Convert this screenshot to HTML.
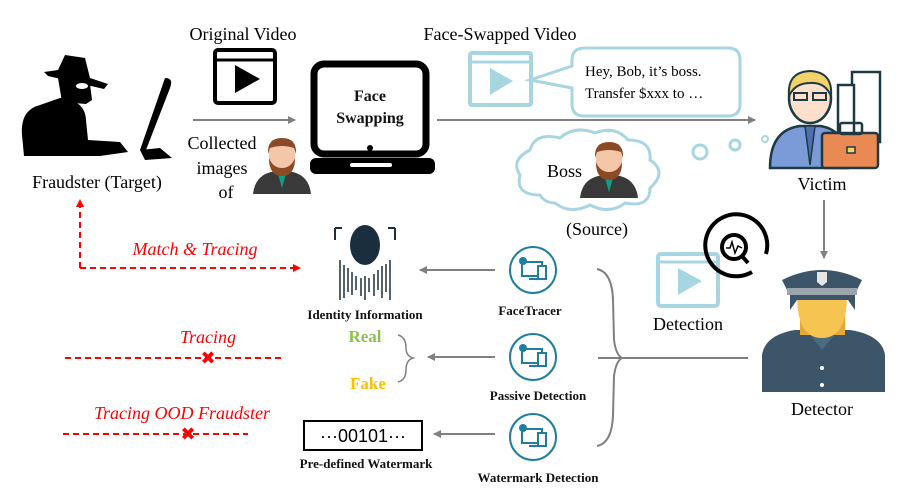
<!DOCTYPE html>
<html><head><meta charset="utf-8"><style>
body{margin:0;background:#fff}
svg{display:block}
.s{font-family:"Liberation Serif",serif;fill:#000}
.b{font-family:"Liberation Serif",serif;font-weight:bold;fill:#111}
.r{font-family:"Liberation Serif",serif;font-style:italic;fill:#f00}
</style></head><body>
<svg width="907" height="491" viewBox="0 0 907 491" xmlns="http://www.w3.org/2000/svg">
<defs>
<marker id="ga" markerWidth="8" markerHeight="8" refX="7" refY="4" orient="auto" markerUnits="userSpaceOnUse"><path d="M0,0 L8,4 L0,8 z" fill="#808080"/></marker>
<marker id="ra" markerWidth="8" markerHeight="8" refX="7" refY="4" orient="auto" markerUnits="userSpaceOnUse"><path d="M0,0 L8,4 L0,8 z" fill="#f00"/></marker>
<g id="boss">
<path d="M0,58 Q2,40 18,36 L40,36 Q56,40 58,58 z" fill="#3a3a3a"/>
<path d="M25,38 L29,52 L33,38 z" fill="#1a9a80"/>
<rect x="16" y="6" width="26" height="30" rx="10" fill="#f4c7a8"/>
<path d="M15,18 Q14,2 29,2 Q44,2 43,18 L41,12 Q29,8 17,12 z" fill="#8a4a25"/>
<path d="M16,22 Q16,40 29,40 Q42,40 42,22 Q38,32 29,32 Q20,32 16,22 z" fill="#8a4a25"/>
</g>
<g id="gear">
<circle cx="0" cy="0" r="23" fill="#fff" stroke="#1f7ea0" stroke-width="2"/>
<rect x="-11" y="-8" width="20" height="14" fill="none" stroke="#1f7ea0" stroke-width="2"/>
<rect x="5" y="-4" width="8" height="13" fill="#fff" stroke="#1f7ea0" stroke-width="2"/>
<rect x="-4" y="8" width="8" height="2" fill="#1f7ea0"/>
<circle cx="-10" cy="-9" r="4" fill="#1f7ea0"/>
</g>
</defs>

<!-- Fraudster -->
<g fill="#000">
<path d="M44,72 L58,70 L65,55 L85,58 L90,78 L108,84 L104,89 L48,76 z"/>
<path d="M58,78 L90,84 L92,100 L86,104 L62,102 z"/>
<ellipse cx="82" cy="86" rx="6" ry="3" fill="#fff"/>
<path d="M22,135 Q20,110 40,105 L60,98 Q85,100 86,120 L88,140 L120,142 L128,152 L100,156 L24,156 z"/>
<path d="M165,78 Q174,78 170,88 L146,150 L140,150 z"/>
<path d="M140,150 L160,148 L172,158 L145,160 z"/>
</g>
<text class="s" x="97" y="188" font-size="18" text-anchor="middle">Fraudster (Target)</text>

<!-- Original video -->
<text class="s" x="243" y="40" font-size="18" text-anchor="middle">Original Video</text>
<rect x="215" y="50" width="60" height="53" rx="3" fill="#fff" stroke="#000" stroke-width="4"/>
<line x1="215" y1="60" x2="275" y2="60" stroke="#000" stroke-width="3"/>
<path d="M235,65 L260,79 L235,93 z" fill="#000"/>
<line x1="193" y1="120" x2="295" y2="120" stroke="#808080" stroke-width="2" marker-end="url(#ga)"/>
<text class="s" x="222" y="149" font-size="18" text-anchor="middle">Collected</text>
<text class="s" x="222" y="174" font-size="18" text-anchor="middle">images</text>
<text class="s" x="226" y="198" font-size="18" text-anchor="middle">of</text>
<use href="#boss" x="253" y="136"/>

<!-- Laptop -->
<rect x="314" y="64" width="112" height="90" rx="10" fill="#fff" stroke="#000" stroke-width="7"/>
<circle cx="370" cy="148" r="3" fill="#000"/>
<rect x="310" y="158" width="125" height="16" rx="6" fill="#000"/>
<rect x="350" y="163" width="42" height="4" rx="2" fill="#fff"/>
<text class="b" x="370" y="101" font-size="16" text-anchor="middle">Face</text>
<text class="b" x="370" y="123" font-size="16" text-anchor="middle">Swapping</text>
<line x1="437" y1="120" x2="755" y2="120" stroke="#808080" stroke-width="2" marker-end="url(#ga)"/>

<!-- Face-swapped -->
<text class="s" x="500" y="40" font-size="18" text-anchor="middle">Face-Swapped Video</text>
<rect x="470" y="53" width="61" height="52" rx="2" fill="#fff" stroke="#a8d5e2" stroke-width="4"/>
<line x1="470" y1="62" x2="531" y2="62" stroke="#a8d5e2" stroke-width="3"/>
<path d="M490,68 L513,81 L490,95 z" fill="#a8d5e2"/>
<path d="M585,48 L728,48 Q740,48 740,60 L740,104 Q740,116 728,116 L584,116 Q572,116 572,104 L572,88 L530,80 L572,66 L572,60 Q572,48 585,48 z" fill="#fff" stroke="#a8d5e2" stroke-width="3"/>
<text class="s" x="585" y="76" font-size="15">Hey, Bob, it’s boss.</text>
<text class="s" x="585" y="98" font-size="15">Transfer $xxx to …</text>

<!-- Cloud -->
<path d="M540,195 Q515,195 520,175 Q510,160 530,150 Q535,132 560,138 Q575,125 595,133 Q615,125 628,140 Q652,140 650,160 Q668,172 650,188 Q650,208 625,203 Q610,215 590,205 Q570,215 555,203 Q545,203 540,195 z" fill="#fff" stroke="#a8d5e2" stroke-width="3"/>
<text class="s" x="547" y="177" font-size="18">Boss</text>
<use href="#boss" x="580" y="140"/>
<text class="s" x="597" y="235" font-size="18" text-anchor="middle">(Source)</text>
<circle cx="700" cy="152" r="7" fill="none" stroke="#a8d5e2" stroke-width="3"/>
<circle cx="735" cy="145" r="5" fill="none" stroke="#a8d5e2" stroke-width="3"/>
<circle cx="765" cy="139" r="3" fill="none" stroke="#a8d5e2" stroke-width="2"/>

<!-- Victim -->
<rect x="852" y="72" width="28" height="70" fill="#fff" stroke="#1d3a44" stroke-width="2.5"/>
<rect x="838" y="85" width="16" height="55" fill="#fff" stroke="#1d3a44" stroke-width="2.5"/>
<path d="M770,168 Q770,130 800,126 L820,126 Q848,130 848,168 z" fill="#7a9bd8" stroke="#1d3a44" stroke-width="2.5"/>
<path d="M805,126 L810,165 L815,126 z" fill="#4f6fb0" stroke="#1d3a44" stroke-width="1.5"/>
<ellipse cx="810" cy="98" rx="21" ry="25" fill="#fde0cc" stroke="#1d3a44" stroke-width="2.5"/>
<path d="M789,96 Q787,72 810,71 Q833,72 831,96 Q825,82 810,83 Q795,83 789,96 z" fill="#f2d26a" stroke="#1d3a44" stroke-width="2"/>
<rect x="794" y="93" width="13" height="7" fill="none" stroke="#1d3a44" stroke-width="2"/>
<rect x="813" y="93" width="13" height="7" fill="none" stroke="#1d3a44" stroke-width="2"/>
<rect x="822" y="133" width="56" height="35" rx="3" fill="#e98a55" stroke="#1d3a44" stroke-width="2.5"/>
<rect x="840" y="123" width="22" height="11" rx="2" fill="none" stroke="#1d3a44" stroke-width="2.5"/>
<rect x="847" y="147" width="8" height="6" fill="#f2d26a" stroke="#1d3a44" stroke-width="1.5"/>
<text class="s" x="822" y="190" font-size="18" text-anchor="middle">Victim</text>
<line x1="824" y1="200" x2="824" y2="258" stroke="#808080" stroke-width="2" marker-end="url(#ga)"/>

<!-- Detector -->
<path d="M762,392 L762,355 Q765,335 795,330 L850,330 Q882,335 885,355 L885,392 z" fill="#3d5568"/>
<path d="M805,328 L822,350 L840,328 z" fill="#4c6a80"/>
<rect x="800" y="310" width="45" height="25" fill="#e5a93a"/>
<path d="M797,295 Q797,338 822,338 Q847,338 847,295 z" fill="#f5c451"/>
<path d="M790,310 L790,292 L855,292 L855,310 L848,300 L797,300 z" fill="#3d5568"/>
<path d="M787,290 L782,280 Q822,260 862,280 L857,290 z" fill="#3d5568"/>
<rect x="787" y="288" width="70" height="7" fill="#9aa5ad"/>
<path d="M817,272 L827,272 L827,282 L822,286 L817,282 z" fill="#e6e6e6"/>
<circle cx="822" cy="368" r="2" fill="#fff"/><circle cx="822" cy="385" r="2" fill="#fff"/>
<text class="s" x="822" y="415" font-size="18" text-anchor="middle">Detector</text>

<!-- Detection icon -->
<rect x="658" y="254" width="60" height="52" rx="3" fill="#fff" stroke="#a8d5e2" stroke-width="4"/>
<line x1="658" y1="262" x2="718" y2="262" stroke="#a8d5e2" stroke-width="3"/>
<path d="M678,268 L702,281 L678,295 z" fill="#a8d5e2"/>
<path d="M752,272 A31,31 0 1 1 766,254" fill="none" stroke="#000" stroke-width="4"/>
<circle cx="734" cy="247" r="12" fill="#fff" stroke="#000" stroke-width="4"/>
<line x1="742" y1="256" x2="748" y2="263" stroke="#000" stroke-width="4"/>
<path d="M726,248 L730,248 L732,242 L735,253 L738,246 L742,248" fill="none" stroke="#000" stroke-width="1.5"/>
<text class="s" x="688" y="330" font-size="18" text-anchor="middle">Detection</text>

<!-- Brace -->
<path d="M597,269 Q612,272 613,300 L614,340 Q616,355 622,358 Q616,361 614,376 L613,415 Q612,443 597,446" fill="none" stroke="#808080" stroke-width="2"/>
<line x1="598" y1="358" x2="748" y2="358" stroke="#808080" stroke-width="2"/>

<!-- Detectors -->
<use href="#gear" x="533" y="270"/>
<use href="#gear" x="533" y="357"/>
<use href="#gear" x="533" y="437"/>
<text class="b" x="530" y="315" font-size="13" text-anchor="middle">FaceTracer</text>
<text class="b" x="538" y="400" font-size="13" text-anchor="middle">Passive Detection</text>
<text class="b" x="538" y="482" font-size="13" text-anchor="middle">Watermark Detection</text>
<line x1="495" y1="270" x2="420" y2="270" stroke="#808080" stroke-width="2" marker-end="url(#ga)"/>
<line x1="495" y1="357" x2="428" y2="357" stroke="#808080" stroke-width="2" marker-end="url(#ga)"/>
<line x1="495" y1="434" x2="434" y2="434" stroke="#808080" stroke-width="2" marker-end="url(#ga)"/>

<!-- Identity -->
<g fill="#1a2e3d">
<ellipse cx="365" cy="245" rx="15" ry="20"/>
<path d="M335,228 L335,240 M395,228 L395,240" stroke="#1a2e3d" stroke-width="2"/>
<path d="M335,228 L342,228 M388,228 L395,228" stroke="#1a2e3d" stroke-width="2"/>
<g stroke="#1a2e3d" stroke-width="1.5">
<line x1="340" y1="260" x2="340" y2="300"/><line x1="344" y1="265" x2="344" y2="298"/><line x1="348" y1="268" x2="348" y2="292"/><line x1="352" y1="272" x2="352" y2="295"/><line x1="356" y1="276" x2="356" y2="290"/><line x1="361" y1="278" x2="361" y2="296"/><line x1="365" y1="276" x2="365" y2="300"/><line x1="369" y1="278" x2="369" y2="292"/><line x1="374" y1="274" x2="374" y2="296"/><line x1="378" y1="270" x2="378" y2="290"/><line x1="382" y1="266" x2="382" y2="298"/><line x1="386" y1="264" x2="386" y2="292"/><line x1="390" y1="260" x2="390" y2="300"/>
</g>
</g>
<text class="b" x="365" y="319" font-size="13" text-anchor="middle">Identity Information</text>

<!-- Real/Fake -->
<text class="b" x="365" y="342" font-size="17" text-anchor="middle" style="fill:#8bc34a">Real</text>
<text class="b" x="368" y="389" font-size="17" text-anchor="middle" style="fill:#ffc000">Fake</text>
<path d="M398,335 Q406,337 406,348 Q406,356 413,358 Q406,360 406,370 Q406,380 398,382" fill="none" stroke="#808080" stroke-width="1.5"/>

<!-- Red paths -->
<path d="M80,268 L80,200" stroke="#f00" stroke-width="2" stroke-dasharray="6,4" fill="none" marker-end="url(#ra)"/>
<path d="M80,268 L300,268" stroke="#f00" stroke-width="2" stroke-dasharray="6,4" fill="none" marker-end="url(#ra)"/>
<text class="r" x="195" y="255" font-size="18" text-anchor="middle">Match &amp; Tracing</text>
<text class="r" x="208" y="343" font-size="18" text-anchor="middle">Tracing</text>
<line x1="65" y1="358" x2="285" y2="358" stroke="#f00" stroke-width="2" stroke-dasharray="6,4"/>
<text x="208" y="364" font-size="18" text-anchor="middle" fill="#f00" font-family="DejaVu Sans" font-weight="bold">✖</text>
<text class="r" x="182" y="419" font-size="18" text-anchor="middle">Tracing OOD Fraudster</text>
<line x1="63" y1="434" x2="248" y2="434" stroke="#f00" stroke-width="2" stroke-dasharray="6,4"/>
<text x="188" y="440" font-size="18" text-anchor="middle" fill="#f00" font-family="DejaVu Sans" font-weight="bold">✖</text>

<!-- Watermark -->
<rect x="304" y="421" width="118" height="29" fill="#fff" stroke="#000" stroke-width="2"/>
<text x="363" y="442" font-size="18" text-anchor="middle" font-family="Liberation Sans" fill="#000">···00101···</text>
<text class="b" x="366" y="468" font-size="13" text-anchor="middle">Pre-defined Watermark</text>
</svg>
</body></html>
